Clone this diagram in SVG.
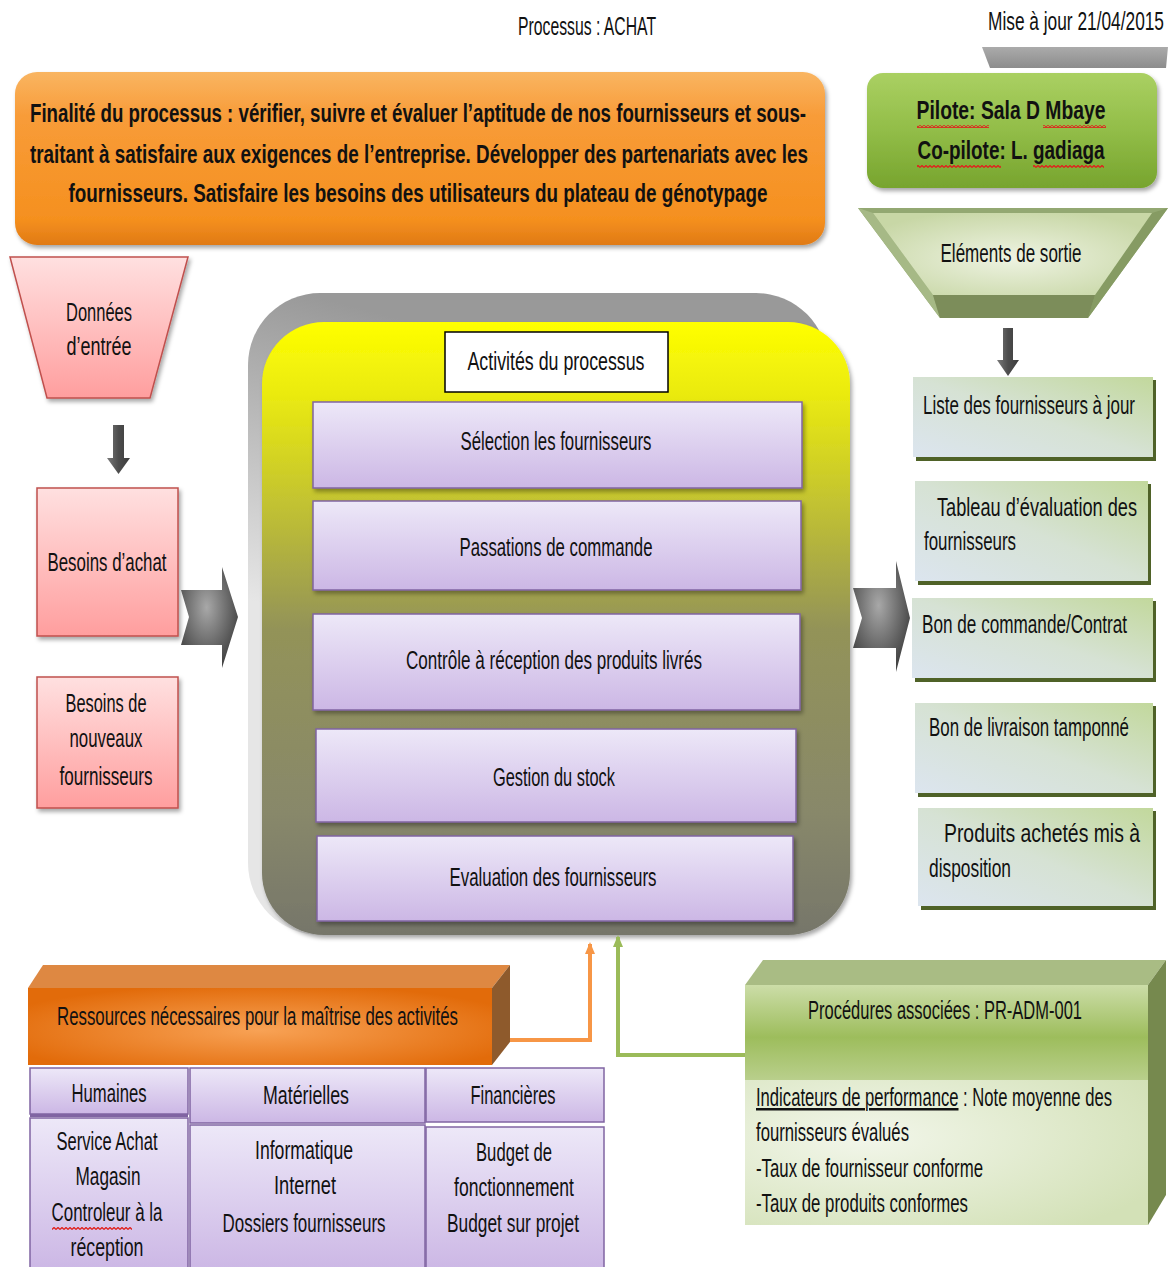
<svg xmlns="http://www.w3.org/2000/svg" width="1168" height="1267" viewBox="0 0 1168 1267">
  <defs>
    <style>
      text { font-family: "Liberation Sans", Arial, sans-serif; font-size: 25px; fill: #111; }
      .c { text-anchor: middle; }
      .b { font-weight: bold; font-size: 26px; }
      .purple { fill: url(#gPurple); stroke: #8064A2; stroke-width: 1.5; }
      .pink { fill: url(#gPink); stroke: #C0504D; stroke-width: 1.5; }
      .cell { fill: url(#gPurple); stroke: #8064A2; stroke-width: 1.5; }
      .outbox { fill: url(#gOut); }
      .outshadow { fill: #4F6228; }
    </style>
    <linearGradient id="gOrange" x1="0" y1="0" x2="0" y2="1">
      <stop offset="0" stop-color="#F9B562"/>
      <stop offset="0.25" stop-color="#F89C39"/>
      <stop offset="0.85" stop-color="#F5901F"/>
      <stop offset="1" stop-color="#E07A14"/>
    </linearGradient>
    <linearGradient id="gPilot" x1="0" y1="0" x2="0" y2="1">
      <stop offset="0" stop-color="#AAD062"/>
      <stop offset="0.5" stop-color="#92BD48"/>
      <stop offset="1" stop-color="#77A42E"/>
    </linearGradient>
    <linearGradient id="gPink" x1="0" y1="0" x2="0" y2="1">
      <stop offset="0" stop-color="#FFE0E0"/>
      <stop offset="1" stop-color="#FF9E9E"/>
    </linearGradient>
    <linearGradient id="gPurple" x1="0" y1="0" x2="0" y2="1">
      <stop offset="0" stop-color="#EDE8F8"/>
      <stop offset="1" stop-color="#CCB7E5"/>
    </linearGradient>
    <linearGradient id="gOut" x1="0" y1="1" x2="1" y2="0">
      <stop offset="0" stop-color="#DCE5EF"/>
      <stop offset="0.5" stop-color="#D6E2D4"/>
      <stop offset="1" stop-color="#C2D89C"/>
    </linearGradient>
    <linearGradient id="gYellow" x1="0" y1="0" x2="0" y2="1">
      <stop offset="0" stop-color="#FFFF00"/>
      <stop offset="0.12" stop-color="#EAEA10"/>
      <stop offset="0.32" stop-color="#BDBD36"/>
      <stop offset="0.5" stop-color="#939358"/>
      <stop offset="0.8" stop-color="#88886A"/>
      <stop offset="1" stop-color="#76766A"/>
    </linearGradient>
    <linearGradient id="gBack" gradientUnits="userSpaceOnUse" x1="248" y1="600" x2="330" y2="300">
      <stop offset="0" stop-color="#E6E6E6"/>
      <stop offset="1" stop-color="#999999"/>
    </linearGradient>
    <radialGradient id="gChevron" cx="0.45" cy="0.4" r="0.6">
      <stop offset="0" stop-color="#A8A8A8"/>
      <stop offset="1" stop-color="#454545"/>
    </radialGradient>
    <linearGradient id="gArrowDown" x1="0" y1="0" x2="1" y2="0">
      <stop offset="0" stop-color="#7A7A7A"/>
      <stop offset="0.5" stop-color="#4D4D4D"/>
      <stop offset="1" stop-color="#3C3C3C"/>
    </linearGradient>
    <linearGradient id="gDateBar" x1="0" y1="0" x2="0" y2="1">
      <stop offset="0" stop-color="#ABABAB"/>
      <stop offset="1" stop-color="#8C8C8C"/>
    </linearGradient>
    <radialGradient id="gSortie" cx="0.5" cy="0.55" r="0.6">
      <stop offset="0" stop-color="#EEF3E2"/>
      <stop offset="1" stop-color="#C8D7A6"/>
    </radialGradient>
    <radialGradient id="gRes" cx="0.5" cy="0.55" r="0.6">
      <stop offset="0" stop-color="#F8A255"/>
      <stop offset="1" stop-color="#E26B0A"/>
    </radialGradient>
    <linearGradient id="gProcTop" x1="0" y1="0" x2="0" y2="1">
      <stop offset="0" stop-color="#CCDDA8"/>
      <stop offset="0.55" stop-color="#9DBD5C"/>
      <stop offset="1" stop-color="#B9CF8C"/>
    </linearGradient>
    <radialGradient id="gProcLow" cx="0.3" cy="0.4" r="0.8">
      <stop offset="0" stop-color="#F2F6EA"/>
      <stop offset="1" stop-color="#D3E1B7"/>
    </radialGradient>
    <!-- spell-check style wavy underline -->
    <pattern id="squig" width="4" height="3" patternUnits="userSpaceOnUse">
      <path d="M0 2.5 L2 0.5 L4 2.5" fill="none" stroke="#E0201C" stroke-width="1.3"/>
    </pattern>
    <filter id="shadow" x="-5%" y="-5%" width="112%" height="115%">
      <feDropShadow dx="2" dy="3" stdDeviation="2" flood-color="#000" flood-opacity="0.35"/>
    </filter>
    <marker id="arrOrange" markerWidth="12" markerHeight="10" refX="10" refY="5" orient="auto" markerUnits="userSpaceOnUse">
      <path d="M0 0 L12 5 L0 10 Z" fill="#F79646"/>
    </marker>
    <marker id="arrGreen" markerWidth="12" markerHeight="10" refX="10" refY="5" orient="auto" markerUnits="userSpaceOnUse">
      <path d="M0 0 L12 5 L0 10 Z" fill="#9BBB59"/>
    </marker>
  </defs>

  <rect width="1168" height="1267" fill="#FFFFFF"/>

  <!-- header -->
  <g id="title">
    <text class="c" x="587" y="35" textLength="138" lengthAdjust="spacingAndGlyphs">Processus : ACHAT</text>
  </g>
  <g id="update-date">
    <polygon points="982,47 1168,47 1166,68 990,68" fill="url(#gDateBar)"/>
    <text x="988" y="30" textLength="176" lengthAdjust="spacingAndGlyphs">Mise à jour 21/04/2015</text>
  </g>

  <!-- purpose -->
  <g id="finalite">
    <rect x="15" y="72" width="810" height="173" rx="22" fill="url(#gOrange)" filter="url(#shadow)"/>
    <text class="c b" x="418" y="122" textLength="776" lengthAdjust="spacingAndGlyphs">Finalité du processus : vérifier, suivre et évaluer l’aptitude de nos fournisseurs et sous-</text>
    <text class="c b" x="419" y="163" textLength="778" lengthAdjust="spacingAndGlyphs">traitant à satisfaire aux exigences de l’entreprise. Développer des partenariats avec les</text>
    <text class="c b" x="418" y="202" textLength="699" lengthAdjust="spacingAndGlyphs">fournisseurs. Satisfaire les besoins des utilisateurs du plateau de génotypage</text>
  </g>

  <!-- owners -->
  <g id="pilote">
    <rect x="867" y="73" width="290" height="115" rx="16" fill="url(#gPilot)" filter="url(#shadow)"/>
    <text class="c b" x="1011" y="119" textLength="189" lengthAdjust="spacingAndGlyphs">Pilote: Sala D Mbaye</text>
    <text class="c b" x="1011" y="159" textLength="187" lengthAdjust="spacingAndGlyphs">Co-pilote: L. gadiaga</text>
    <rect x="917" y="125" width="72" height="3" fill="url(#squig)"/>
    <rect x="1043" y="125" width="63" height="3" fill="url(#squig)"/>
    <rect x="917" y="165" width="84" height="3" fill="url(#squig)"/>
    <rect x="1033" y="165" width="71" height="3" fill="url(#squig)"/>
  </g>

  <!-- outputs header -->
  <g id="elements-sortie">
    <polygon points="858,208 1168,208 1088,318 940,318" fill="#93A872"/>
    <polygon points="858,208 873,213 933,295 940,318" fill="#A6B986"/>
    <polygon points="1168,208 1152,213 1095,295 1088,318" fill="#869B63"/>
    <polygon points="933,295 1095,295 1088,318 940,318" fill="#7C8D5A"/>
    <polygon points="873,213 1152,213 1095,295 933,295" fill="url(#gSortie)"/>
    <text class="c" x="1011" y="262" textLength="141" lengthAdjust="spacingAndGlyphs">Eléments de sortie</text>
  </g>

  <!-- inputs -->
  <g id="donnees-entree">
    <polygon class="pink" points="10,257 188,257 150,398 47,398" filter="url(#shadow)"/>
    <text class="c" x="99" y="321" textLength="66" lengthAdjust="spacingAndGlyphs">Données</text>
    <text class="c" x="99" y="355" textLength="65" lengthAdjust="spacingAndGlyphs">d’entrée</text>
  </g>
  <g id="besoins-achat">
    <rect class="pink" x="37" y="488" width="141" height="148" filter="url(#shadow)"/>
    <text class="c" x="107" y="571" textLength="119" lengthAdjust="spacingAndGlyphs">Besoins d’achat</text>
  </g>
  <g id="besoins-fournisseurs">
    <rect class="pink" x="37" y="677" width="141" height="131" filter="url(#shadow)"/>
    <text class="c" x="106" y="712" textLength="81" lengthAdjust="spacingAndGlyphs">Besoins de</text>
    <text class="c" x="106" y="747" textLength="73" lengthAdjust="spacingAndGlyphs">nouveaux</text>
    <text class="c" x="106" y="785" textLength="93" lengthAdjust="spacingAndGlyphs">fournisseurs</text>
  </g>

  <!-- activities -->
  <g id="activites">
    <rect x="248" y="293" width="580" height="642" rx="72" fill="url(#gBack)"/>
    <rect x="262" y="322" width="588" height="613" rx="62" fill="url(#gYellow)" filter="url(#shadow)"/>
    <rect x="445" y="332" width="223" height="60" fill="#FFFFFF" stroke="#000" stroke-width="1.5"/>
    <text class="c" x="556" y="370" textLength="177" lengthAdjust="spacingAndGlyphs">Activités du processus</text>
  </g>
  <g id="act-selection">
    <rect class="purple" x="313" y="402" width="489" height="86" filter="url(#shadow)"/>
    <text class="c" x="556" y="450" textLength="191" lengthAdjust="spacingAndGlyphs">Sélection les fournisseurs</text>
  </g>
  <g id="act-commande">
    <rect class="purple" x="313" y="501" width="488" height="89" filter="url(#shadow)"/>
    <text class="c" x="556" y="556" textLength="193" lengthAdjust="spacingAndGlyphs">Passations de commande</text>
  </g>
  <g id="act-controle">
    <rect class="purple" x="313" y="614" width="487" height="96" filter="url(#shadow)"/>
    <text class="c" x="554" y="669" textLength="296" lengthAdjust="spacingAndGlyphs">Contrôle à réception des produits livrés</text>
  </g>
  <g id="act-stock">
    <rect class="purple" x="316" y="729" width="480" height="93" filter="url(#shadow)"/>
    <text class="c" x="554" y="786" textLength="122" lengthAdjust="spacingAndGlyphs">Gestion du stock</text>
  </g>
  <g id="act-evaluation">
    <rect class="purple" x="317" y="836" width="476" height="85" filter="url(#shadow)"/>
    <text class="c" x="553" y="886" textLength="207" lengthAdjust="spacingAndGlyphs">Evaluation des fournisseurs</text>
  </g>

  <!-- outputs -->
  <g id="out-liste">
    <rect class="outshadow" x="916" y="380" width="240" height="81"/>
    <rect class="outbox" x="913" y="377" width="240" height="80"/>
    <text x="923" y="414" textLength="212" lengthAdjust="spacingAndGlyphs">Liste des fournisseurs à jour</text>
  </g>
  <g id="out-tableau">
    <rect class="outshadow" x="918" y="484" width="233" height="101"/>
    <rect class="outbox" x="915" y="481" width="233" height="100"/>
    <text x="937" y="516" textLength="200" lengthAdjust="spacingAndGlyphs">Tableau  d’évaluation  des</text>
    <text x="924" y="550" textLength="92" lengthAdjust="spacingAndGlyphs">fournisseurs</text>
  </g>
  <g id="out-bon-commande">
    <rect class="outshadow" x="915" y="601" width="241" height="81"/>
    <rect class="outbox" x="912" y="598" width="241" height="80"/>
    <text x="922" y="633" textLength="205" lengthAdjust="spacingAndGlyphs">Bon de commande/Contrat</text>
  </g>
  <g id="out-bon-livraison">
    <rect class="outshadow" x="918" y="706" width="238" height="91"/>
    <rect class="outbox" x="915" y="703" width="238" height="90"/>
    <text x="929" y="736" textLength="200" lengthAdjust="spacingAndGlyphs">Bon de livraison tamponné</text>
  </g>
  <g id="out-produits">
    <rect class="outshadow" x="921" y="811" width="235" height="99"/>
    <rect class="outbox" x="918" y="808" width="235" height="98"/>
    <text x="944" y="842" textLength="196" lengthAdjust="spacingAndGlyphs">Produits  achetés  mis  à</text>
    <text x="929" y="877" textLength="82" lengthAdjust="spacingAndGlyphs">disposition</text>
  </g>

  <!-- resources -->
  <g id="ressources">
    <polygon points="28,988 43,965 510,965 492,988" fill="#DE8842"/>
    <polygon points="492,988 510,965 510,1042 492,1065" fill="#8E5A2C"/>
    <rect x="28" y="988" width="464" height="77" fill="url(#gRes)"/>
    <text x="57" y="1025" textLength="401" lengthAdjust="spacingAndGlyphs">Ressources nécessaires pour la maîtrise des activités</text>
  </g>
  <g id="res-humaines">
    <rect class="cell" x="30" y="1068" width="158" height="46"/>
    <rect x="30" y="1114" width="158" height="3" fill="#8064A2"/>
    <rect class="cell" x="30" y="1118" width="158" height="152"/>
    <text class="c" x="109" y="1102" textLength="75" lengthAdjust="spacingAndGlyphs">Humaines</text>
    <text class="c" x="107" y="1150" textLength="101" lengthAdjust="spacingAndGlyphs">Service Achat</text>
    <text class="c" x="108" y="1185" textLength="65" lengthAdjust="spacingAndGlyphs">Magasin</text>
    <text class="c" x="107" y="1221" textLength="111" lengthAdjust="spacingAndGlyphs">Controleur à la</text>
    <text class="c" x="107" y="1256" textLength="73" lengthAdjust="spacingAndGlyphs">réception</text>
    <rect x="52" y="1227" width="80" height="3" fill="url(#squig)"/>
  </g>
  <g id="res-materielles">
    <rect class="cell" x="190" y="1068" width="235" height="55"/>
    <rect class="cell" x="190" y="1125" width="235" height="145"/>
    <text class="c" x="306" y="1104" textLength="86" lengthAdjust="spacingAndGlyphs">Matérielles</text>
    <text class="c" x="304" y="1159" textLength="98" lengthAdjust="spacingAndGlyphs">Informatique</text>
    <text class="c" x="305" y="1194" textLength="62" lengthAdjust="spacingAndGlyphs">Internet</text>
    <text class="c" x="304" y="1232" textLength="163" lengthAdjust="spacingAndGlyphs">Dossiers fournisseurs</text>
  </g>
  <g id="res-financieres">
    <rect class="cell" x="426" y="1068" width="178" height="54"/>
    <rect class="cell" x="426" y="1127" width="178" height="143"/>
    <text class="c" x="513" y="1104" textLength="85" lengthAdjust="spacingAndGlyphs">Financières</text>
    <text class="c" x="514" y="1161" textLength="76" lengthAdjust="spacingAndGlyphs">Budget de</text>
    <text class="c" x="514" y="1196" textLength="120" lengthAdjust="spacingAndGlyphs">fonctionnement</text>
    <text class="c" x="513" y="1232" textLength="132" lengthAdjust="spacingAndGlyphs">Budget sur projet</text>
  </g>

  <!-- procedures and indicators -->
  <g id="procedures">
    <polygon points="745,985 763,960 1166,960 1148,985" fill="#A9BC84"/>
    <polygon points="1148,985 1166,960 1166,1195 1148,1225" fill="#76894E"/>
    <rect x="745" y="985" width="403" height="95" fill="url(#gProcTop)"/>
    <rect x="745" y="1080" width="403" height="145" fill="url(#gProcLow)"/>
    <text class="c" x="945" y="1019" textLength="274" lengthAdjust="spacingAndGlyphs">Procédures associées : PR-ADM-001</text>
    <text x="756" y="1106" textLength="356" lengthAdjust="spacingAndGlyphs"><tspan text-decoration="underline">Indicateurs de performance</tspan> : Note moyenne des</text>
    <text x="756" y="1141" textLength="153" lengthAdjust="spacingAndGlyphs">fournisseurs évalués</text>
    <text x="756" y="1177" textLength="227" lengthAdjust="spacingAndGlyphs">-Taux de fournisseur conforme</text>
    <text x="756" y="1212" textLength="212" lengthAdjust="spacingAndGlyphs">-Taux de produits conformes</text>
  </g>

  <!-- connectors -->
  <g id="connectors">
    <!-- block arrows -->
    <path d="M113 425 H124 V458 H130 L118.5 474 L107 458 H113 Z" fill="url(#gArrowDown)"/>
    <path d="M1003 328 H1013 V360 H1019 L1008 376 L997 360 H1003 Z" fill="url(#gArrowDown)"/>
    <path d="M181 590 H222 V567 L238 617 L222 668 V645 H181 L189 617 Z" fill="url(#gChevron)"/>
    <path d="M853 588 H896 V561 L910 618 L896 672 V648 H853 L862 618 Z" fill="url(#gChevron)"/>
    <!-- resources and procedures feeding the activities -->
    <polyline points="510,1040 590,1040 590,944" fill="none" stroke="#F79646" stroke-width="4" marker-end="url(#arrOrange)"/>
    <polyline points="745,1055 618,1055 618,937" fill="none" stroke="#9BBB59" stroke-width="4" marker-end="url(#arrGreen)"/>
  </g>
</svg>
